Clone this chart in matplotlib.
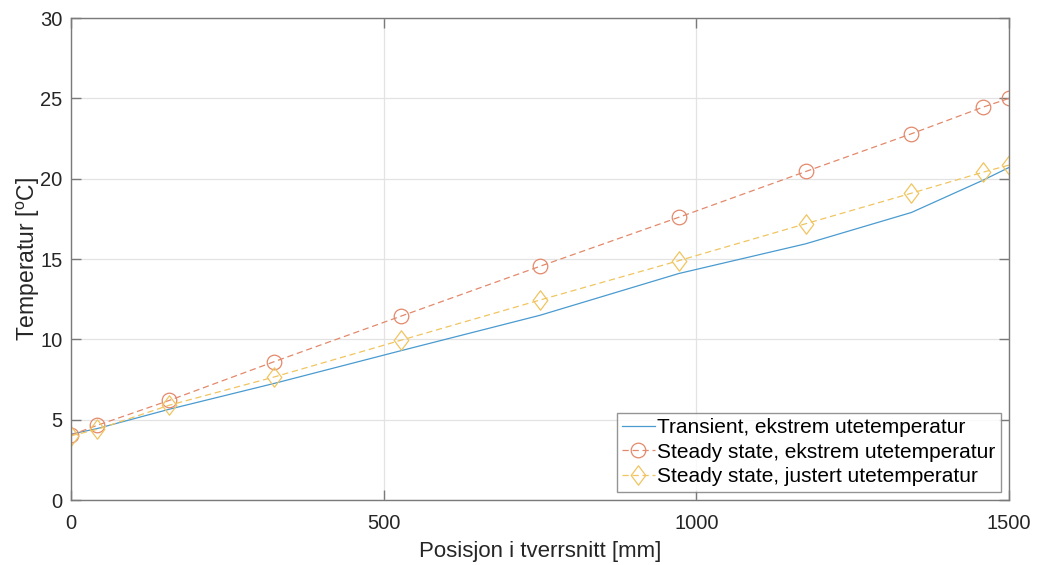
import numpy as np
import matplotlib.pyplot as plt
from matplotlib.path import Path

plt.rcParams['font.family'] = ['Liberation Sans', 'DejaVu Sans']
plt.rcParams['mathtext.fontset'] = 'custom'
plt.rcParams['mathtext.rm'] = 'Liberation Sans'
plt.rcParams['mathtext.it'] = 'Liberation Sans'

# Positions through the cross section [mm]
pos = [0, 42, 157, 324, 528, 750, 972, 1175, 1344, 1458, 1500]

# Temperatures [C]
transient_ext = [4.1, 4.45, 5.65, 7.25, 9.3, 11.5, 14.1, 15.95, 17.9, 19.9, 20.7]
steady_ext = [4.05, 4.65, 6.2, 8.6, 11.45, 14.55, 17.6, 20.45, 22.8, 24.45, 25.0]
steady_adj = [4.0, 4.4, 5.9, 7.65, 9.95, 12.45, 14.9, 17.2, 19.1, 20.4, 20.85]

labels = ['Transient, ekstrem utetemperatur',
          'Steady state, ekstrem utetemperatur',
          'Steady state, justert utetemperatur']

c_blue = '#4a9bd0'
c_red = '#e3896b'
c_yel = '#f0c560'

# MATLAB-like diamond (taller than wide)
diamond = Path([(0, 1), (0.75, 0), (0, -1), (-0.75, 0), (0, 1)],
               [Path.MOVETO, Path.LINETO, Path.LINETO, Path.LINETO, Path.CLOSEPOLY])

fig = plt.figure(figsize=(10.37, 5.65), dpi=100)
ax = fig.add_axes([0.0685, 0.115, 0.9045, 0.853])

ax.plot(pos, transient_ext, '-', color=c_blue, lw=0.9, label=labels[0])
ax.plot(pos, steady_ext, '--', color=c_red, lw=0.9, marker='o', ms=10.5,
        mfc='none', mec=c_red, mew=0.9, dashes=(5, 3), label=labels[1])
ax.plot(pos, steady_adj, '--', color=c_yel, lw=0.9, marker=diamond, ms=14,
        mfc='none', mec=c_yel, mew=0.9, dashes=(5, 3), label=labels[2])

ax.set_xlim(0, 1500)
ax.set_ylim(0, 30)
ax.set_xticks([0, 500, 1000, 1500])
ax.set_yticks(np.arange(0, 31, 5))
ax.grid(True, color='#e3e3e3', lw=0.9)
ax.set_axisbelow(True)
for s in ax.spines.values():
    s.set_color('#7a7a7a')
    s.set_linewidth(1.0)
ax.tick_params(direction='in', length=7, width=1.0, color='#7a7a7a',
               labelsize=14.5, labelcolor='#262626', top=True, right=True)
ax.tick_params(axis='x', pad=10)
ax.tick_params(axis='y', pad=6)

ax.set_xlabel('Posisjon i tverrsnitt [mm]', fontsize=16, color='#262626', labelpad=6)
ax.set_ylabel(r'Temperatur [$^{\mathrm{o}}$C]', fontsize=16.5, color='#262626', labelpad=-1)

leg = ax.legend(loc='lower right', fontsize=15, frameon=True, fancybox=False,
                edgecolor='#7a7a7a', borderaxespad=0.4, handlelength=1.6,
                handletextpad=0.1, borderpad=0.25, labelspacing=0.28)
leg.get_frame().set_linewidth(1.0)

fig.savefig('out.png', dpi=100)
